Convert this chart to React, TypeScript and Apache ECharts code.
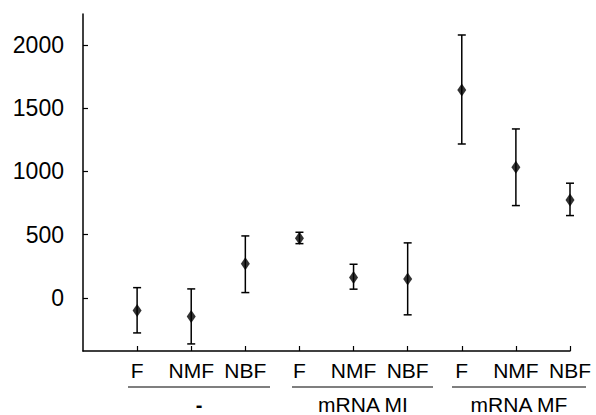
import React, { useEffect, useRef } from "react";
import * as echarts from "echarts";

const categories = ["F", "NMF", "NBF", "F", "NMF", "NBF", "F", "NMF", "NBF"];
const groups = ["-", "mRNA MI", "mRNA MF"];
const means = [-100, -148, 269, 472, 161, 150, 1644, 1033, 775];
const upper = [81, 71, 490, 519, 266, 435, 2079, 1336, 907];
const lower = [-277, -364, 42, 429, 69, -134, 1217, 730, 651];
const yTicks = [0, 500, 1000, 1500, 2000];
const xTicks = [1, 2, 3, 4, 5, 6, 7, 8, 9];

const FONT = "Liberation Sans, Arial, Helvetica, sans-serif";

export default function App() {
  const ref = useRef<HTMLDivElement>(null);
  useEffect(() => {
    if (!ref.current) return;
    const chart = echarts.init(ref.current, null, { renderer: "svg" });
    const groupLines = [
      { x1: 128, x2: 270, cx: 199, label: groups[0], dash: true },
      { x1: 292, x2: 433, cx: 363, label: groups[1], dash: false },
      { x1: 452, x2: 586, cx: 519, label: groups[2], dash: false },
    ];
    const graphic: any[] = [];
    groupLines.forEach((g) => {
      graphic.push({
        type: "line",
        shape: { x1: g.x1, y1: 387, x2: g.x2, y2: 387 },
        style: { stroke: "#000", lineWidth: 1.2 },
      });
      graphic.push({
        type: "text",
        x: g.cx,
        y: g.dash ? 405 : 404,
        style: {
          text: g.label,
          fill: "#000",
          font: g.dash ? `bold 20px ${FONT}` : `21px ${FONT}`,
          textAlign: "center",
          textVerticalAlign: "middle",
        },
      });
    });
    chart.setOption({
      animation: false,
      grid: { left: 83, right: 26, top: 14, bottom: 64 },
      xAxis: {
        type: "value",
        min: 0,
        max: 9,
        interval: 1,
        splitLine: { show: false },
        axisLine: { onZero: false, lineStyle: { color: "#000", width: 1.5 } },
        axisTick: {
          inside: true,
          length: 5,
          customValues: xTicks,
          lineStyle: { color: "#000", width: 1.2 },
        },
        axisLabel: {
          customValues: xTicks,
          color: "#000",
          fontSize: 21,
          fontFamily: FONT,
          margin: 9,
          formatter: (v: number) => categories[Math.round(v) - 1] ?? "",
        },
      },
      yAxis: {
        type: "value",
        min: -420,
        max: 2245,
        splitLine: { show: false },
        axisLine: { show: true, onZero: false, lineStyle: { color: "#000", width: 1.5 } },
        axisTick: {
          show: true,
          inside: true,
          length: 5,
          customValues: yTicks,
          lineStyle: { color: "#000", width: 1.2 },
        },
        axisLabel: {
          customValues: yTicks,
          color: "#000",
          fontSize: 23,
          fontFamily: FONT,
          margin: 19,
          formatter: (v: number) => String(v),
        },
      },
      graphic,
      series: [
        {
          type: "custom",
          data: means.map((_, i) => [i + 1, lower[i], upper[i]]),
          renderItem: (params: any, api: any) => {
            const x = api.value(0);
            const lo = api.coord([x, api.value(1)]);
            const hi = api.coord([x, api.value(2)]);
            const hw = 4;
            const style = { stroke: "#000", lineWidth: 1.5 };
            return {
              type: "group",
              children: [
                { type: "line", shape: { x1: lo[0], y1: lo[1], x2: hi[0], y2: hi[1] }, style },
                { type: "line", shape: { x1: lo[0] - hw, y1: lo[1], x2: lo[0] + hw, y2: lo[1] }, style },
                { type: "line", shape: { x1: hi[0] - hw, y1: hi[1], x2: hi[0] + hw, y2: hi[1] }, style },
              ],
            };
          },
          z: 2,
        },
        {
          type: "scatter",
          data: means.map((m, i) => [i + 1, m]),
          symbol: "diamond",
          symbolSize: [9, 13],
          itemStyle: { color: "#000" },
          z: 3,
        },
      ],
    });
    return () => chart.dispose();
  }, []);
  return (
    <div
      ref={ref}
      style={{ position: "fixed", left: 0, top: 0, width: 596, height: 415, background: "#fff" }}
    />
  );
}
